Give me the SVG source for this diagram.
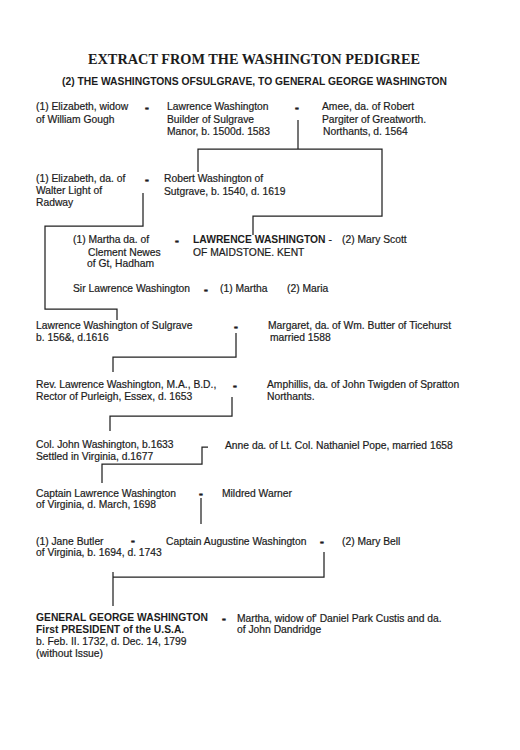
<svg xmlns="http://www.w3.org/2000/svg" width="520" height="750" viewBox="0 0 520 750">
<style>
text{font-family:"Liberation Sans",Arial,sans-serif;font-size:10.3px;fill:#1c1c1c;stroke:#1c1c1c;stroke-width:0.2}
.title{font-family:"Liberation Serif","Times New Roman",serif;font-size:14.2px;font-weight:bold;stroke-width:0}
.sub{font-weight:bold;stroke-width:0;font-size:10px}
.b{font-weight:bold;stroke-width:0}
.d{font-weight:bold;font-size:11.5px;text-anchor:middle;stroke-width:0.6}
.conn path{fill:none;stroke:#222;stroke-width:1.25}
</style>
<rect width="520" height="750" fill="#fff"/>
<text class="title" x="88" y="64" textLength="332" lengthAdjust="spacingAndGlyphs">EXTRACT FROM THE WASHINGTON PEDIGREE</text>
<text class="sub" x="62" y="85" textLength="385" lengthAdjust="spacingAndGlyphs">(2) THE WASHINGTONS OFSULGRAVE, TO GENERAL GEORGE WASHINGTON</text>

<g id="n-elizabeth-gough"><text x="36" y="110">(1) Elizabeth, widow</text><text x="36" y="123">of William Gough</text></g>
<text class="d" x="147" y="111">-</text>
<g id="n-lawrence-builder"><text x="167" y="110">Lawrence Washington</text><text x="167" y="123">Builder of Sulgrave</text><text x="167" y="135">Manor, b. 1500d. 1583</text></g>
<text class="d" x="297" y="111">-</text>
<g id="n-amee"><text x="322" y="110">Amee, da. of Robert</text><text x="322" y="123">Pargiter of Greatworth.</text><text x="323" y="135">Northants, d. 1564</text></g>

<g id="n-elizabeth-light"><text x="36" y="182">(1) Elizabeth, da. of</text><text x="36" y="194">Walter Light of</text><text x="36" y="206">Radway</text></g>
<text class="d" x="147" y="183">-</text>
<g id="n-robert"><text x="164" y="182">Robert Washington of</text><text x="164" y="195">Sutgrave, b. 1540, d. 1619</text></g>

<g id="n-martha-newes"><text x="73" y="243">(1) Martha da. of</text><text x="88" y="256">Clement Newes</text><text x="87" y="267">of Gt, Hadham</text></g>
<text class="d" x="177" y="244">-</text>
<g id="n-lawrence-maidstone"><text x="193" y="243"><tspan class="b">LAWRENCE WASHINGTON</tspan> -</text><text x="193" y="256">OF MAIDSTONE. KENT</text></g>
<g id="n-mary-scott"><text x="342" y="243">(2) Mary Scott</text></g>

<g id="n-sir-lawrence"><text x="73" y="292">Sir Lawrence Washington</text></g>
<text class="d" x="206" y="293">-</text>
<g id="n-martha"><text x="220" y="292">(1) Martha</text></g>
<g id="n-maria"><text x="287" y="292">(2) Maria</text></g>

<g id="n-lawrence-sulgrave"><text x="36" y="329">Lawrence Washington of Sulgrave</text><text x="36" y="341">b. 156&amp;, d.1616</text></g>
<text class="d" x="236" y="330">-</text>
<g id="n-margaret"><text x="268" y="329">Margaret, da. of Wm. Butter of Ticehurst</text><text x="270" y="341">married 1588</text></g>

<g id="n-rev-lawrence"><text x="36" y="388">Rev. Lawrence Washington, M.A., B.D.,</text><text x="36" y="400">Rector of Purleigh, Essex, d. 1653</text></g>
<text class="d" x="235" y="389">-</text>
<g id="n-amphillis"><text x="267" y="388">Amphillis, da. of John Twigden of Spratton</text><text x="267" y="400">Northants.</text></g>

<g id="n-john"><text x="36" y="448">Col. John Washington, b.1633</text><text x="36" y="460">Settled in Virginia, d.1677</text></g>
<g id="n-anne"><text x="225" y="449">Anne da. of Lt. Col. Nathaniel Pope, married 1658</text></g>

<g id="n-capt-lawrence"><text x="36" y="497">Captain Lawrence Washington</text><text x="36" y="508">of Virginia, d. March, 1698</text></g>
<text class="d" x="201" y="497">-</text>
<g id="n-mildred"><text x="222" y="497">Mildred Warner</text></g>

<g id="n-jane"><text x="36" y="545">(1) Jane Butler</text><text x="36" y="556">of Virginia, b. 1694, d. 1743</text></g>
<text class="d" x="133" y="544">-</text>
<g id="n-augustine"><text x="166" y="545">Captain Augustine Washington</text></g>
<text class="d" x="322" y="545">-</text>
<g id="n-mary-bell"><text x="342" y="545">(2) Mary Bell</text></g>

<g id="n-george"><text class="b" x="36" y="621">GENERAL GEORGE WASHINGTON</text><text class="b" x="36" y="633">First PRESIDENT of the U.S.A.</text><text x="36" y="645">b. Feb. II. 1732, d. Dec. 14, 1799</text><text x="36" y="657">(without Issue)</text></g>
<text class="d" x="224" y="622">-</text>
<g id="n-martha-custis"><text x="237" y="622">Martha, widow of' Daniel Park Custis and da.</text><text x="237" y="633">of John Dandridge</text></g>

<g id="connectors" class="conn">
<path d="M298,120 V149"/>
<path d="M198,172 V149 H382 V216 H253 V235"/>
<path d="M143,193 V226 H45 V309 H117 V320"/>
<path d="M236,333 V357 H113 V372"/>
<path d="M232,397 V416 H110 V431"/>
<path d="M208,447 H202 V464 H102 V483"/>
<path d="M201,498 V524"/>
<path d="M324,552 V577 H113"/>
<path d="M113,572 V606"/>
</g>
</svg>
